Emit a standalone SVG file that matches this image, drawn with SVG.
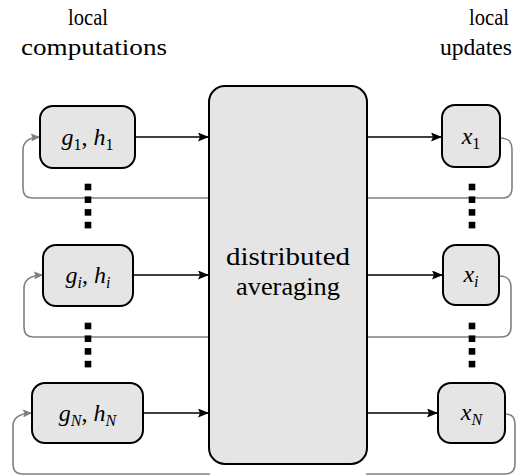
<svg xmlns="http://www.w3.org/2000/svg" width="517" height="475" viewBox="0 0 517 475">
<defs>
<marker id="ah" markerWidth="11" markerHeight="9" refX="10" refY="4.5" orient="auto" markerUnits="userSpaceOnUse"><path d="M0,0 L11,4.5 L0,9 L2,4.5 Z" fill="#000"/></marker>
<marker id="gh" markerWidth="9" markerHeight="8" refX="8" refY="4" orient="auto" markerUnits="userSpaceOnUse"><path d="M0,0 L9,4 L0,8 L1.5,4 Z" fill="#808080"/></marker>
</defs>
<g id="labels">
<text font-family="Liberation Serif, serif" font-size="24" x="68" y="25" textLength="40" lengthAdjust="spacingAndGlyphs">local</text>
<text font-family="Liberation Serif, serif" font-size="24" x="21" y="55" textLength="146" lengthAdjust="spacingAndGlyphs">computations</text>
<text font-family="Liberation Serif, serif" font-size="24" x="469" y="25" textLength="40" lengthAdjust="spacingAndGlyphs">local</text>
<text font-family="Liberation Serif, serif" font-size="24" x="440" y="55" textLength="72" lengthAdjust="spacingAndGlyphs">updates</text>
</g>
<g id="connectors" fill="none" stroke-width="1.6">
<g stroke="#000" marker-end="url(#ah)">
<path d="M135,137 L208,137"/>
<path d="M133,275 L208,275"/>
<path d="M143,413 L208,413"/>
<path d="M367,137 L441,137"/>
<path d="M367,275 L442,275"/>
<path d="M367,413 L437,413"/>
</g>
<g stroke="#808080">
<path marker-end="url(#gh)" d="M210,198 L32,198 Q23,198 23,188 L23,150 Q23,138 39,137"/>
<path marker-end="url(#gh)" d="M210,337 L33,337 Q24,337 24,327 L24,288 Q24,276 42,275"/>
<path marker-end="url(#gh)" d="M210,474 L22,474 Q13,474 13,464 L13,426 Q13,414 31,413"/>
<path d="M500,138 C509,138 512,142 512,150 L512,188 Q512,198 502,198 L366,198"/>
<path d="M499,276 C508,276 511,280 511,288 L511,327 Q511,337 501,337 L366,337"/>
<path d="M505,414 C513,414 515,418 515,426 L515,464 Q515,474 505,474 L366,474"/>
</g>
</g>
<g id="dots" fill="#000">
<rect x="84.7" y="183.7" width="6.6" height="6.6"/>
<rect x="84.7" y="196.4" width="6.6" height="6.6"/>
<rect x="84.7" y="209.1" width="6.6" height="6.6"/>
<rect x="84.7" y="221.8" width="6.6" height="6.6"/>
<rect x="84.7" y="322.7" width="6.6" height="6.6"/>
<rect x="84.7" y="335.4" width="6.6" height="6.6"/>
<rect x="84.7" y="348.1" width="6.6" height="6.6"/>
<rect x="84.7" y="360.8" width="6.6" height="6.6"/>
<rect x="468.7" y="183.7" width="6.6" height="6.6"/>
<rect x="468.7" y="196.4" width="6.6" height="6.6"/>
<rect x="468.7" y="209.1" width="6.6" height="6.6"/>
<rect x="468.7" y="221.8" width="6.6" height="6.6"/>
<rect x="468.7" y="322.7" width="6.6" height="6.6"/>
<rect x="468.7" y="335.4" width="6.6" height="6.6"/>
<rect x="468.7" y="348.1" width="6.6" height="6.6"/>
<rect x="468.7" y="360.8" width="6.6" height="6.6"/>
</g>
<g id="avg">
<rect fill="#e5e5e5" stroke="#000" stroke-width="2" x="209" y="86" width="158" height="378" rx="16"/>
<text font-family="Liberation Serif, serif" font-size="25" x="226" y="265" textLength="124" lengthAdjust="spacingAndGlyphs">distributed</text>
<text font-family="Liberation Serif, serif" font-size="25" x="236" y="295" textLength="104" lengthAdjust="spacingAndGlyphs">averaging</text>
</g>
<g id="g1">
<rect fill="#e5e5e5" stroke="#000" stroke-width="2" x="40" y="106" width="95" height="62" rx="13"/>
<text font-family="Liberation Serif, serif" font-size="24" x="61.5" y="145"><tspan font-style="italic">g</tspan><tspan font-size="16" dy="5">1</tspan><tspan dy="-5">, </tspan><tspan font-style="italic">h</tspan><tspan font-size="16" dy="5">1</tspan></text>
</g>
<g id="gi">
<rect fill="#e5e5e5" stroke="#000" stroke-width="2" x="43" y="245" width="90" height="61" rx="13"/>
<text font-family="Liberation Serif, serif" font-size="24" x="65.6" y="283"><tspan font-style="italic">g</tspan><tspan font-size="16" font-style="italic" dy="5">i</tspan><tspan dy="-5">, </tspan><tspan font-style="italic">h</tspan><tspan font-size="16" font-style="italic" dy="5">i</tspan></text>
</g>
<g id="gN">
<rect fill="#e5e5e5" stroke="#000" stroke-width="2" x="32" y="383" width="111" height="60" rx="13"/>
<text font-family="Liberation Serif, serif" font-size="24" x="58.8" y="421"><tspan font-style="italic">g</tspan><tspan font-size="16" font-style="italic" dy="5">N</tspan><tspan dy="-5">, </tspan><tspan font-style="italic">h</tspan><tspan font-size="16" font-style="italic" dy="5">N</tspan></text>
</g>
<g id="x1">
<rect fill="#e5e5e5" stroke="#000" stroke-width="2" x="442" y="105" width="58" height="62" rx="13"/>
<text font-family="Liberation Serif, serif" font-size="24" x="461.7" y="144"><tspan font-style="italic">x</tspan><tspan font-size="16" dy="5">1</tspan></text>
</g>
<g id="xi">
<rect fill="#e5e5e5" stroke="#000" stroke-width="2" x="443" y="245" width="56" height="60" rx="13"/>
<text font-family="Liberation Serif, serif" font-size="24" x="463.4" y="282"><tspan font-style="italic">x</tspan><tspan font-size="16" font-style="italic" dy="5">i</tspan></text>
</g>
<g id="xN">
<rect fill="#e5e5e5" stroke="#000" stroke-width="2" x="438" y="383" width="67" height="60" rx="13"/>
<text font-family="Liberation Serif, serif" font-size="24" x="460.8" y="420"><tspan font-style="italic">x</tspan><tspan font-size="16" font-style="italic" dy="5">N</tspan></text>
</g>
</svg>
